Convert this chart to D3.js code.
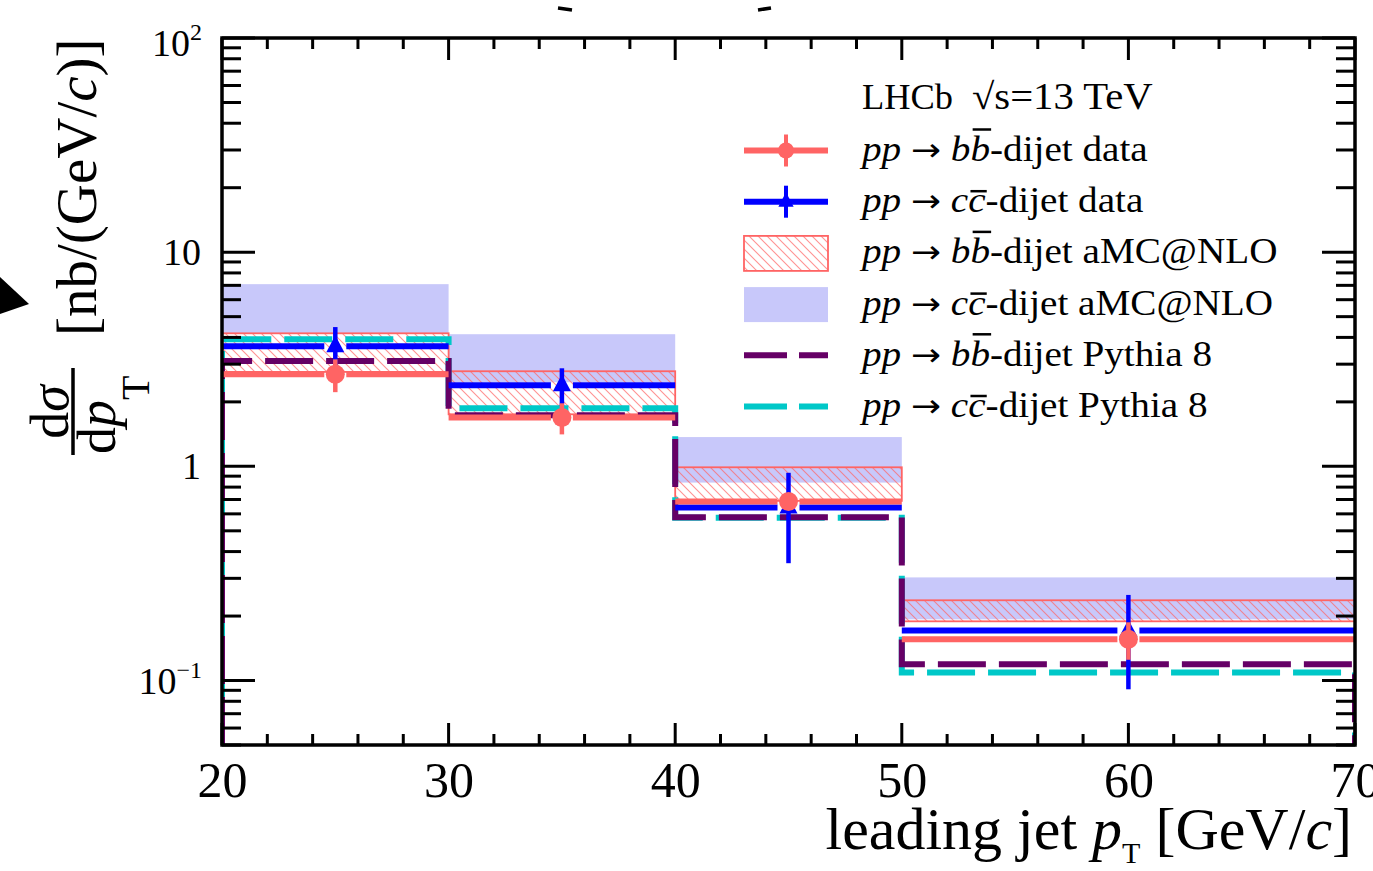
<!DOCTYPE html>
<html>
<head>
<meta charset="utf-8">
<script src="https://cdn.jsdelivr.net/npm/d3@7"></script>
<style>
  html, body { margin: 0; padding: 0; background: #fff; }
  svg { display: block; font-family: "Liberation Serif", "DejaVu Serif", serif; }
</style>
</head>
<body>
<svg id="chart" width="1373" height="871"></svg>
<script>
// Leading-jet pT differential cross-sections, bb and cc dijets (LHCb, 13 TeV)
const binEdges = [20, 30, 40, 50, 70];
const bbData    = [2.69, 1.69, 0.685, 0.156];
const bbDataErr = [0.47, 0.28, 0.06, 0.031];
const ccData    = [3.64, 2.39, 0.643, 0.171];
const ccDataErr = [0.83, 0.48, 0.29, 0.08];
const bbAmcLow  = [2.76, 1.75, 0.69, 0.189];
const bbAmcHigh = [4.18, 2.78, 0.99, 0.237];
const ccAmcLow  = [4.15, 2.47, 0.84, 0.193];
const ccAmcHigh = [7.09, 4.14, 1.37, 0.303];
const bbPythia  = [3.10, 1.73, 0.578, 0.119];
const ccPythia  = [3.92, 1.87, 0.575, 0.109];
const xMajorTicks = [20, 30, 40, 50, 60, 70];
const yMajorTicks = [0.1, 1, 10, 100];
const yTickLabels = [["10", "\u22121"], ["1", null], ["10", null], ["10", "2"]];

const C = {
  red: "#ff6464", blue: "#0000ff", band: "#c8c8fa",
  purple: "#660066", cyan: "#00c8c8", ink: "#000"
};

const svg = d3.select("#chart");
const L = 222, R = 1355, T = 38, B = 745;
const x = d3.scaleLinear().domain([20, 70]).range([L, R]);
const y = d3.scaleLog().domain([0.05, 100]).range([B, T]);

const defs = svg.append("defs");
defs.append("clipPath").attr("id", "frame")
  .append("rect").attr("x", L).attr("y", T).attr("width", R - L).attr("height", B - T);
const hatch = defs.append("pattern").attr("id", "hatch")
  .attr("patternUnits", "userSpaceOnUse").attr("width", 9).attr("height", 9);
hatch.append("path").attr("d", "M0,0 L9,9 M-2,7 L2,11 M7,-2 L11,2")
  .attr("stroke", C.red).attr("stroke-width", 1.1).attr("stroke-opacity", 0.7);

const bins = d3.range(bbData.length).map(i => ({
  x0: binEdges[i], x1: binEdges[i + 1], xc: (binEdges[i] + binEdges[i + 1]) / 2, i
}));

const plot = svg.append("g").attr("clip-path", "url(#frame)");

// aMC@NLO cc band (filled)
plot.selectAll("rect.ccband").data(bins).join("rect").attr("class", "ccband")
  .attr("x", d => x(d.x0)).attr("width", d => x(d.x1) - x(d.x0))
  .attr("y", d => y(ccAmcHigh[d.i])).attr("height", d => y(ccAmcLow[d.i]) - y(ccAmcHigh[d.i]))
  .attr("fill", C.band);

// aMC@NLO bb band (hatched, outlined)
plot.selectAll("rect.bbband").data(bins).join("rect").attr("class", "bbband")
  .attr("x", d => x(d.x0)).attr("width", d => x(d.x1) - x(d.x0))
  .attr("y", d => y(bbAmcHigh[d.i])).attr("height", d => y(bbAmcLow[d.i]) - y(bbAmcHigh[d.i]))
  .attr("fill", "url(#hatch)").attr("stroke", C.red).attr("stroke-width", 1.8);

// Pythia 8 step histograms
function stepPath(vals) {
  const p = d3.path();
  p.moveTo(x(binEdges[0]), y(0.05));
  vals.forEach((v, i) => {
    p.lineTo(x(binEdges[i]), y(v));
    p.lineTo(x(binEdges[i + 1]), y(v));
  });
  p.lineTo(x(binEdges[binEdges.length - 1]), y(0.05));
  return p.toString();
}
plot.append("path").attr("d", stepPath(ccPythia)).attr("fill", "none")
  .attr("stroke", C.cyan).attr("stroke-width", 6).attr("stroke-dasharray", "48 13")
  .attr("stroke-dashoffset", 20);
plot.append("path").attr("d", stepPath(bbPythia)).attr("fill", "none")
  .attr("stroke", C.purple).attr("stroke-width", 6).attr("stroke-dasharray", "48 13");

// Data points with bin-width bars and vertical error bars
function drawData(vals, errs, color, marker) {
  const g = plot.append("g");
  const gap = 11;
  bins.forEach(d => {
    const v = vals[d.i], e = errs[d.i];
    const cx = x(d.xc), cy = y(v);
    g.append("line").attr("x1", x(d.x0)).attr("x2", cx - gap).attr("y1", cy).attr("y2", cy)
      .attr("stroke", color).attr("stroke-width", 6);
    g.append("line").attr("x1", cx + gap).attr("x2", x(d.x1)).attr("y1", cy).attr("y2", cy)
      .attr("stroke", color).attr("stroke-width", 6);
    g.append("line").attr("x1", cx).attr("x2", cx).attr("y1", y(v + e)).attr("y2", y(v - e))
      .attr("stroke", color).attr("stroke-width", 4.5);
    marker(g, cx, cy);
  });
}
const triangle = (g, cx, cy, s = 1) => g.append("path")
  .attr("d", `M${cx},${cy - 11 * s} L${cx + 9 * s},${cy + 6 * s} L${cx - 9 * s},${cy + 6 * s} Z`)
  .attr("fill", C.blue);
const circle = (g, cx, cy, r = 9.5) => g.append("circle")
  .attr("cx", cx).attr("cy", cy).attr("r", r).attr("fill", C.red);

drawData(ccData, ccDataErr, C.blue, (g, cx, cy) => triangle(g, cx, cy));
drawData(bbData, bbDataErr, C.red, (g, cx, cy) => circle(g, cx, cy));

// Frame and ticks
const axes = svg.append("g").attr("stroke", C.ink).attr("fill", "none");
axes.append("rect").attr("x", L).attr("y", T).attr("width", R - L).attr("height", B - T)
  .attr("stroke-width", 3.5);

const xMinor = d3.range(20, 70.01, 2).filter(v => !xMajorTicks.includes(v));
const yMinor = [];
[0.01, 0.1, 1, 10].forEach(dec => d3.range(2, 10).forEach(k => {
  const v = k * dec;
  if (v >= 0.05 && v <= 100) yMinor.push(v);
}));

function xTicks(vals, len) {
  vals.forEach(v => {
    axes.append("line").attr("x1", x(v)).attr("x2", x(v)).attr("y1", B).attr("y2", B - len).attr("stroke-width", 3);
    axes.append("line").attr("x1", x(v)).attr("x2", x(v)).attr("y1", T).attr("y2", T + len).attr("stroke-width", 3);
  });
}
function yTicks(vals, len) {
  vals.forEach(v => {
    axes.append("line").attr("x1", L).attr("x2", L + len).attr("y1", y(v)).attr("y2", y(v)).attr("stroke-width", 3);
    axes.append("line").attr("x1", R).attr("x2", R - len).attr("y1", y(v)).attr("y2", y(v)).attr("stroke-width", 3);
  });
}
xTicks(xMajorTicks, 22);
xTicks(xMinor, 11);
yTicks(yMajorTicks, 33);
yTicks(yMinor, 19);

// Tick labels
const xAxis = d3.axisBottom(x).tickValues(xMajorTicks).tickSize(0).tickPadding(0)
  .tickFormat(d3.format("d"));
const gx = svg.append("g").attr("transform", `translate(0,${B})`).call(xAxis);
gx.select(".domain").remove();
gx.selectAll("text").attr("font-family", "Liberation Serif").attr("font-size", 50)
  .attr("fill", C.ink).attr("dy", null).attr("y", 52);

const yl = svg.append("g").attr("font-size", 38).attr("fill", C.ink).attr("text-anchor", "end");
yMajorTicks.forEach((v, i) => {
  const [base, sup] = yTickLabels[i];
  const t = yl.append("text").attr("x", sup ? 202 : 201).attr("y", y(v) + 13 + (v === 100 ? 5 : 0));
  t.append("tspan").text(base);
  if (sup) t.append("tspan").attr("font-size", 24).attr("dy", -16).text(sup);
});

// Axis titles
const xt = svg.append("text").attr("x", 1352).attr("y", 849).attr("text-anchor", "end")
  .attr("font-size", 60).attr("fill", C.ink);
xt.append("tspan").text("leading jet ");
xt.append("tspan").attr("font-style", "italic").text("p");
xt.append("tspan").attr("font-size", 30).attr("dy", 14).text("T");
xt.append("tspan").attr("dy", -14).text(" [GeV/");
xt.append("tspan").attr("font-style", "italic").text("c");
xt.append("tspan").text("]");

const yt = svg.append("g").attr("transform", "rotate(-90)").attr("fill", C.ink).attr("font-size", 57);
const num = yt.append("text").attr("x", -412).attr("y", 68).attr("text-anchor", "middle").attr("font-size", 54);
num.append("tspan").text("d");
num.append("tspan").attr("font-style", "italic").text("\u03c3");
yt.append("line").attr("x1", -455).attr("x2", -368).attr("y1", 73).attr("y2", 73)
  .attr("stroke", C.ink).attr("stroke-width", 3.5);
const den = yt.append("text").attr("x", -454).attr("y", 115).attr("font-size", 54);
den.append("tspan").text("d");
den.append("tspan").attr("font-style", "italic").text("p");
den.append("tspan").attr("font-size", 40).attr("dy", 34).text("T");
const unit = yt.append("text").attr("x", -336).attr("y", 96);
unit.append("tspan").text("[nb/(GeV/");
unit.append("tspan").attr("font-style", "italic").text("c");
unit.append("tspan").text(")]");

// Legend
const lg = svg.append("g").attr("fill", C.ink);
lg.append("text").attr("transform", "translate(862,109) scale(1.04,1)").attr("font-size", 35).text("LHCb");
lg.append("text").attr("transform", "translate(972,109) scale(1.1,1)").attr("font-size", 37).text("\u221as=13 TeV");

const legendRows = [
  { q: "b", label: "-dijet data", kind: "bdata" },
  { q: "c", label: "-dijet data", kind: "cdata" },
  { q: "b", label: "-dijet aMC@NLO", kind: "bband" },
  { q: "c", label: "-dijet aMC@NLO", kind: "cband" },
  { q: "b", label: "-dijet Pythia 8", kind: "bpy" },
  { q: "c", label: "-dijet Pythia 8", kind: "cpy" }
];
const sx0 = 744, sx1 = 828, sxc = 786, fs = 35;
legendRows.forEach((r, i) => {
  const base = 161 + i * 51.2;
  const mid = base - 10.5;
  const row = lg.append("g").attr("transform", `translate(862,${base}) scale(1.12,1)`)
    .attr("font-size", fs);
  const t = row.append("text").attr("x", 0).attr("y", 0);
  t.append("tspan").attr("font-style", "italic").text("pp");
  t.append("tspan").text(" ");
  t.append("tspan").attr("font-family", "DejaVu Sans").attr("font-size", 32).text("\u2192");
  t.append("tspan").text(" ");
  t.append("tspan").attr("font-style", "italic").text(r.q + r.q);
  t.append("tspan").text(r.label);
  const ext = t.node().getExtentOfChar(6);
  const oy = -(r.q === "b" ? 0.9 : 0.6) * fs;
  row.append("line").attr("x1", ext.x + 2).attr("x2", ext.x + ext.width + 1)
    .attr("y1", oy).attr("y2", oy).attr("stroke", C.ink).attr("stroke-width", 2.5);

  if (r.kind === "bdata" || r.kind === "cdata") {
    const col = r.kind === "bdata" ? C.red : C.blue;
    lg.append("line").attr("x1", sx0).attr("x2", sx1).attr("y1", mid).attr("y2", mid)
      .attr("stroke", col).attr("stroke-width", 6);
    lg.append("line").attr("x1", sxc).attr("x2", sxc).attr("y1", mid - 16).attr("y2", mid + 16)
      .attr("stroke", col).attr("stroke-width", 4);
    if (r.kind === "bdata") circle(lg, sxc, mid, 8);
    else triangle(lg, sxc, mid, 0.85);
  } else if (r.kind === "bband") {
    lg.append("rect").attr("x", sx0).attr("y", mid - 17).attr("width", sx1 - sx0).attr("height", 35)
      .attr("fill", "url(#hatch)").attr("stroke", C.red).attr("stroke-width", 1.8);
  } else if (r.kind === "cband") {
    lg.append("rect").attr("x", sx0).attr("y", mid - 17).attr("width", sx1 - sx0).attr("height", 35)
      .attr("fill", C.band);
  } else {
    lg.append("line").attr("x1", sx0).attr("x2", sx1).attr("y1", mid).attr("y2", mid)
      .attr("stroke", r.kind === "bpy" ? C.purple : C.cyan).attr("stroke-width", 6)
      .attr("stroke-dasharray", "43 12");
  }
});

// Arrow head at the left margin and the clipped heading strokes at the top
svg.append("path").attr("d", "M0,277 L29,304 L0,314 Z").attr("fill", C.ink);
svg.append("path").attr("d", "M558,8 L572,10 M758,10 L771,8").attr("stroke", C.ink)
  .attr("stroke-width", 3.5);
</script>
</body>
</html>
